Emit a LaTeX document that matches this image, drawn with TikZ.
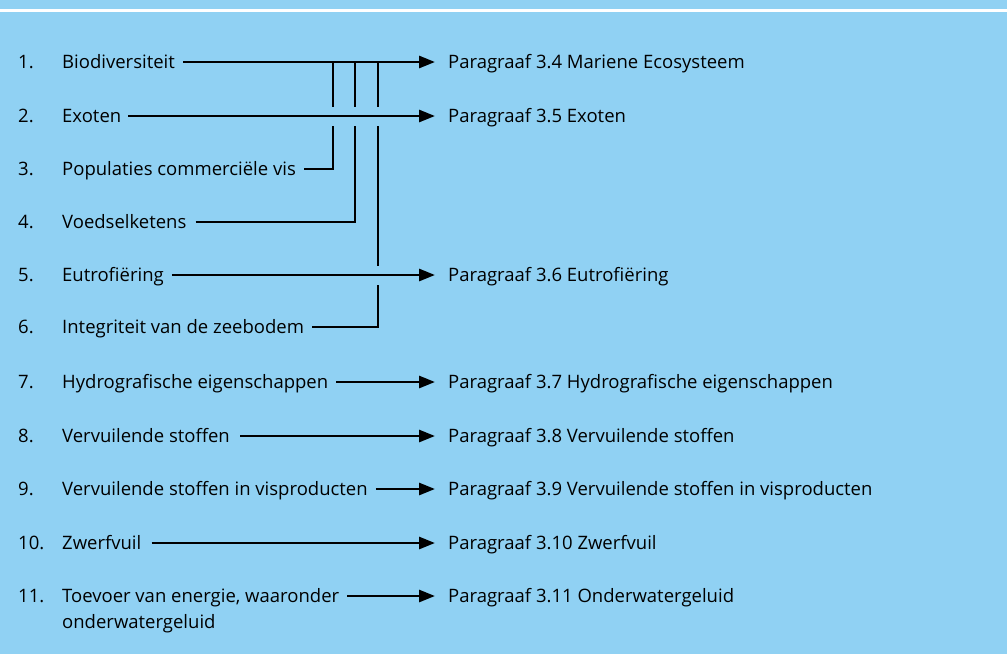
\documentclass[tikz,border=0pt]{standalone}
\usepackage{fontspec}
\setmainfont{Open Sans}
\usetikzlibrary{arrows.meta}
\definecolor{zeeblauw}{RGB}{144,209,243}
\tikzset{
  txt/.style={anchor=west, inner sep=0pt, text height=13pt, text depth=0pt,
    font=\fontsize{18.5}{22}\selectfont},
  lijn/.style={line width=2.8pt},
  pijl/.style={lijn, -{Triangle[length=16pt,width=12pt]}, shorten >=13pt},
  brug/.style={preaction={draw=zeeblauw, line width=19pt, -}},
}
\begin{document}
\begin{tikzpicture}[x=1pt,y=-1pt]
  \fill[zeeblauw] (0,0) rectangle (1007,654);
  \useasboundingbox (0,0) rectangle (1007,654);
  \draw[white, line width=2.4pt] (0,10.5) -- (1007,10.5);

  \node[txt] (n1) at (18,62) {1.};
  \node[txt] (b1) at (62,62) {Biodiversiteit};
  \node[txt] (p1) at (448,62) {Paragraaf 3.4 Mariene Ecosysteem};
  \node[txt] (n2) at (18,116) {2.};
  \node[txt] (b2) at (62,116) {Exoten};
  \node[txt] (p2) at (448,116) {Paragraaf 3.5 Exoten};
  \node[txt] (n3) at (18,169) {3.};
  \node[txt] (b3) at (62,169) {Populaties commerciële vis};
  \node[txt] (n4) at (18,222) {4.};
  \node[txt] (b4) at (62,222) {Voedselketens};
  \node[txt] (n5) at (18,275) {5.};
  \node[txt] (b5) at (62,275) {Eutrofiëring};
  \node[txt] (p5) at (448,275) {Paragraaf 3.6 Eutrofiëring};
  \node[txt] (n6) at (18,327) {6.};
  \node[txt] (b6) at (62,327) {Integriteit van de zeebodem};
  \node[txt] (n7) at (18,382) {7.};
  \node[txt] (b7) at (62,382) {Hydrografische eigenschappen};
  \node[txt] (p7) at (448,382) {Paragraaf 3.7 Hydrografische eigenschappen};
  \node[txt] (n8) at (18,436) {8.};
  \node[txt] (b8) at (62,436) {Vervuilende stoffen};
  \node[txt] (p8) at (448,436) {Paragraaf 3.8 Vervuilende stoffen};
  \node[txt] (n9) at (18,489) {9.};
  \node[txt] (b9) at (62,489) {Vervuilende stoffen in visproducten};
  \node[txt] (p9) at (448,489) {Paragraaf 3.9 Vervuilende stoffen in visproducten};
  \node[txt] (n10) at (18,543) {10.};
  \node[txt] (b10) at (62,543) {Zwerfvuil};
  \node[txt] (p10) at (448,543) {Paragraaf 3.10 Zwerfvuil};
  \node[txt] (n11) at (18,596) {11.};
  \node[txt] (b11) at (62,596) {Toevoer van energie, waaronder};
  \node[txt] (b11b) at (62,622) {onderwatergeluid};
  \node[txt] (p11) at (448,596) {Paragraaf 3.11 Onderwatergeluid};

  % aftakkingen naar paragraaf 3.4
  \coordinate (v3) at (333,62);
  \coordinate (v4) at (355,62);
  \coordinate (v6) at (378,62);
  \draw[pijl] ([xshift=8pt]b1.east) -- (p1.west);
  \draw[lijn] ([xshift=8pt]b3.east) -| (v3);
  \draw[lijn] ([xshift=9pt]b4.east) -| (v4);
  \draw[lijn] ([xshift=8pt]b6.east) -| (v6);

  \draw[pijl, brug] ([xshift=7pt]b2.east) -- (p2.west);
  \draw[pijl, brug] ([xshift=8pt]b5.east) -- (p5.west);
  \draw[pijl] ([xshift=8pt]b7.east) -- (p7.west);
  \draw[pijl] ([xshift=10pt]b8.east) -- (p8.west);
  \draw[pijl] ([xshift=8pt]b9.east) -- (p9.west);
  \draw[pijl] ([xshift=10pt]b10.east) -- (p10.west);
  \draw[pijl] ([xshift=8pt]b11.east) -- (p11.west);
\end{tikzpicture}
\end{document}
